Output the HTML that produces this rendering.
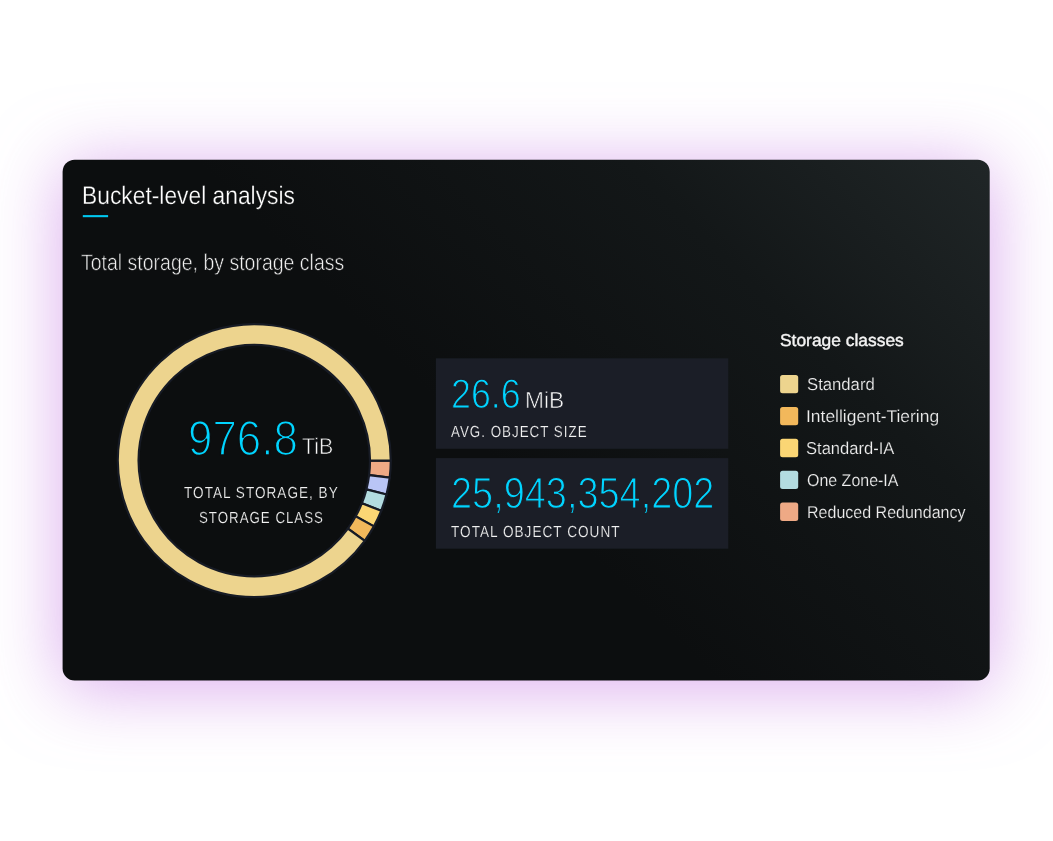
<!DOCTYPE html>
<html lang="en">
<head>
<meta charset="utf-8">
<title>Bucket-level analysis</title>
<style>
*{box-sizing:border-box;margin:0;padding:0}
html,body{width:1053px;height:841px;background:#fff;overflow:hidden}
body{position:relative;font-family:"Liberation Sans",sans-serif;color:#fff}
.glow{position:absolute;left:65px;top:162px;width:923px;height:516px;border-radius:10px;background:#0c0e0f;
  box-shadow:0 7px 70px 2.5px rgba(192,112,224,.59)}
.card{position:absolute;left:0;top:0;width:1053px;height:841px}
.layer{position:absolute;left:0;top:0;width:1053px;height:841px}
.abs{position:absolute;white-space:nowrap;line-height:1;transform-origin:0 0;text-rendering:geometricPrecision}
.title{color:#fff}
.sub{color:#f2f2f2}
.big{color:#00d4ff}
.unit{color:#f6f6f6}
.cap{color:#f2f2f2;letter-spacing:1.2px}
.lt{color:#f4f4f4;-webkit-text-stroke:.4px #f4f4f4}
.li{color:#efefef}
</style>
</head>
<body>
<div class="glow"></div>
<svg class="card" viewBox="0 0 1053 841">
  <defs>
    <linearGradient id="cg" gradientUnits="userSpaceOnUse" x1="888" y1="58" x2="164" y2="782">
      <stop offset="0" stop-color="#202627"/>
      <stop offset=".25" stop-color="#131718"/>
      <stop offset=".55" stop-color="#0c0e0f"/>
      <stop offset="1" stop-color="#0c0e0f"/>
    </linearGradient>
  </defs>
  <rect x="62.6" y="159.7" width="927.1" height="520.8" rx="12" ry="12" fill="url(#cg)"/>
  <rect x="82.8" y="215.1" width="25.3" height="2.1" fill="#00c8f0"/>
  <rect x="435.9" y="358.3" width="292.4" height="90.5" fill="#1b1e27"/>
  <rect x="435.9" y="458.1" width="292.4" height="90.6" fill="#1b1e27"/>
  <g transform="translate(254.3,460.6)" stroke="#171b25" stroke-width="2.2">
      <path d="M136.50 0.00A136.5 136.5 0 0 1 135.42 17.11L114.79 14.50A115.7 115.7 0 0 0 115.70 0.00Z" fill="#eea985"/>
      <path d="M135.42 17.11A136.5 136.5 0 0 1 132.21 33.95L112.07 28.77A115.7 115.7 0 0 0 114.79 14.50Z" fill="#b9c5f6"/>
      <path d="M132.21 33.95A136.5 136.5 0 0 1 126.91 50.25L107.58 42.59A115.7 115.7 0 0 0 112.07 28.77Z" fill="#b3dce0"/>
      <path d="M126.91 50.25A136.5 136.5 0 0 1 119.62 65.76L101.39 55.74A115.7 115.7 0 0 0 107.58 42.59Z" fill="#fbd674"/>
      <path d="M119.62 65.76A136.5 136.5 0 0 1 110.43 80.23L93.60 68.01A115.7 115.7 0 0 0 101.39 55.74Z" fill="#f2b85b"/>
      <path d="M110.43 80.23A136.5 136.5 0 1 1 136.50 -0.00L115.70 -0.00A115.7 115.7 0 1 0 93.60 68.01Z" fill="#edd48e"/>
  </g>
  <rect x="780.1" y="375.0" width="18.1" height="18.35" rx="2.5" fill="#edd48e"/>
  <rect x="780.1" y="406.9" width="18.1" height="18.35" rx="2.5" fill="#f2b85b"/>
  <rect x="780.1" y="438.8" width="18.1" height="18.35" rx="2.5" fill="#fbd674"/>
  <rect x="780.1" y="470.7" width="18.1" height="18.35" rx="2.5" fill="#b3dce0"/>
  <rect x="780.1" y="502.6" width="18.1" height="18.35" rx="2.5" fill="#eea985"/>
</svg>
<div class="layer">
  <div class="abs title" id="title" style="left:81.96px;top:184.17px;font-size:25.3px;transform:scaleX(0.9016);-webkit-text-stroke:0.3px #0c0e0f;">Bucket-level analysis</div>
  <div class="abs sub" id="sub" style="left:80.72px;top:250.95px;font-size:22.7px;transform:scaleX(0.8591);-webkit-text-stroke:0.6px #0c0e0f;">Total storage, by storage class</div>
  <div class="abs big" id="n1" style="left:187.79px;top:415.22px;font-size:49.1px;transform:scaleX(0.8941);-webkit-text-stroke:1.6px #0c0e0f;">976.8</div>
  <div class="abs unit" id="u1" style="left:301.67px;top:435.40px;font-size:23px;transform:scaleX(0.9293);-webkit-text-stroke:0.6px #0c0e0f;">TiB</div>
  <div class="abs cap" id="c1a" style="left:183.65px;top:485.76px;font-size:16px;transform:scaleX(0.8479);-webkit-text-stroke:0.2px #0c0e0f;">TOTAL STORAGE, BY</div>
  <div class="abs cap" id="c1b" style="left:198.81px;top:510.79px;font-size:16px;transform:scaleX(0.8303);-webkit-text-stroke:0.2px #0c0e0f;">STORAGE CLASS</div>
  <div class="abs big" id="n2" style="left:450.51px;top:373.70px;font-size:41.3px;transform:scaleX(0.8659);-webkit-text-stroke:1.1px #1b1e27;">26.6</div>
  <div class="abs unit" id="u2" style="left:524.69px;top:388.65px;font-size:23.3px;transform:scaleX(0.9768);-webkit-text-stroke:0.6px #1b1e27;">MiB</div>
  <div class="abs cap" id="c2" style="left:450.70px;top:424.77px;font-size:16px;transform:scaleX(0.8350);-webkit-text-stroke:0.2px #1b1e27;">AVG. OBJECT SIZE</div>
  <div class="abs big" id="n3" style="left:450.85px;top:471.71px;font-size:43.7px;transform:scaleX(0.8674);-webkit-text-stroke:1.2px #1b1e27;">25,943,354,202</div>
  <div class="abs cap" id="c3" style="left:451.34px;top:524.77px;font-size:16px;transform:scaleX(0.8491);-webkit-text-stroke:0.2px #1b1e27;">TOTAL OBJECT COUNT</div>
  <div class="abs lt" id="lt" style="left:779.77px;top:331.72px;font-size:17.2px;transform:scaleX(1.0122);">Storage classes</div>
  <div class="abs li" id="l1" style="left:806.52px;top:375.81px;font-size:17.2px;transform:scaleX(0.9712);-webkit-text-stroke:0.2px #121617;">Standard</div>
  <div class="abs li" id="l2" style="left:805.89px;top:407.72px;font-size:17.2px;transform:scaleX(1.0146);-webkit-text-stroke:0.2px #131718;">Intelligent-Tiering</div>
  <div class="abs li" id="l3" style="left:805.94px;top:439.77px;font-size:17.2px;transform:scaleX(0.9623);-webkit-text-stroke:0.2px #121617;">Standard-IA</div>
  <div class="abs li" id="l4" style="left:806.76px;top:471.72px;font-size:17.2px;transform:scaleX(0.9292);-webkit-text-stroke:0.2px #111516;">One Zone-IA</div>
  <div class="abs li" id="l5" style="left:806.92px;top:503.72px;font-size:17.2px;transform:scaleX(0.9320);-webkit-text-stroke:0.2px #111415;">Reduced Redundancy</div>
</div>

</body>
</html>
